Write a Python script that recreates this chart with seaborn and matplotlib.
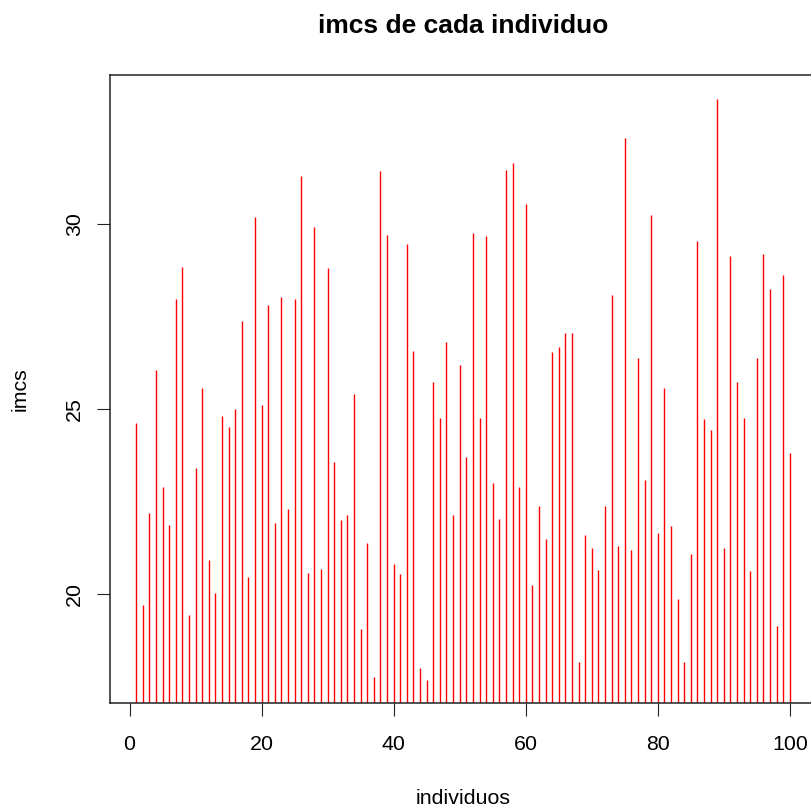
import matplotlib
matplotlib.use("Agg")
import matplotlib.pyplot as plt
import seaborn as sns
import numpy as np

individuos = list(range(1, 101))
imcs = [24.62, 19.68, 22.18, 26.04, 22.88, 21.85, 27.97, 28.83, 19.42, 23.40,
        25.56, 20.90, 20.02, 24.81, 24.51, 25.00, 27.38, 20.46, 30.20, 25.10,
        27.81, 21.90, 28.03, 22.28, 27.96, 31.31, 20.57, 29.93, 20.67, 28.82,
        23.55, 21.99, 22.13, 25.40, 19.05, 21.36, 17.75, 31.42, 29.71, 20.79,
        20.53, 29.46, 26.56, 18.00, 17.67, 25.73, 24.76, 26.82, 22.13, 26.19,
        23.70, 29.76, 24.76, 29.68, 22.99, 22.02, 31.45, 31.65, 22.88, 30.53,
        20.24, 22.36, 21.47, 26.53, 26.67, 27.04, 27.04, 18.16, 21.59, 21.24,
        20.65, 22.36, 28.08, 21.28, 32.32, 21.17, 26.37, 23.06, 30.24, 21.65,
        25.55, 21.83, 19.86, 18.15, 21.06, 29.53, 24.73, 24.43, 33.39, 21.23,
        29.12, 25.73, 24.76, 20.61, 26.37, 29.19, 28.23, 19.12, 28.62, 23.81]
x_ticks = [0, 20, 40, 60, 80, 100]
y_ticks = [20, 25, 30]
title = "imcs de cada individuo"
xlabel = "individuos"
ylabel = "imcs"

sns.set_style("ticks")
plt.rcParams['font.family'] = ['Liberation Sans', 'DejaVu Sans']

W, H = 811, 808
fig = plt.figure(figsize=(W / 100, H / 100), dpi=100)
ax = fig.add_axes([110 / W, 1 - 703 / H, 706 / W, 628 / H])

ax.vlines(individuos, 0, imcs, colors="#FF0000", linewidth=1.0)
ax.set_xlim(-2.96, 103.96)
ax.set_ylim(17.04, 34.03)
ax.set_xticks(x_ticks)
ax.set_yticks(y_ticks)
ax.set_xticklabels([str(t) for t in x_ticks])
ax.set_yticklabels([str(t) for t in y_ticks])

for s in ax.spines.values():
    s.set_visible(True)
    s.set_color("#222222")
    s.set_linewidth(1.1)

ax.tick_params(axis="both", direction="out", length=9.2, width=0.8,
               colors="#222222", labelcolor="black", labelsize=15.4)
ax.tick_params(axis="x", pad=14)
ax.tick_params(axis="y", pad=9.3, labelrotation=90)
for lbl in ax.get_yticklabels():
    lbl.set_va("center")
    lbl.set_ha("right")
ax.grid(False)

fig.text(463 / W, 1 - 33 / H, title, ha="center", va="baseline",
         fontsize=19, fontweight="bold", color="black")
fig.text(463 / W, 1 - 804 / H, xlabel, ha="center", va="baseline",
         fontsize=15.4, color="black")
fig.text(20 / W, 1 - 389 / H, ylabel, ha="center", va="center",
         rotation=90, fontsize=15.4, color="black")

fig.savefig("out.png", dpi=100, facecolor="white")
